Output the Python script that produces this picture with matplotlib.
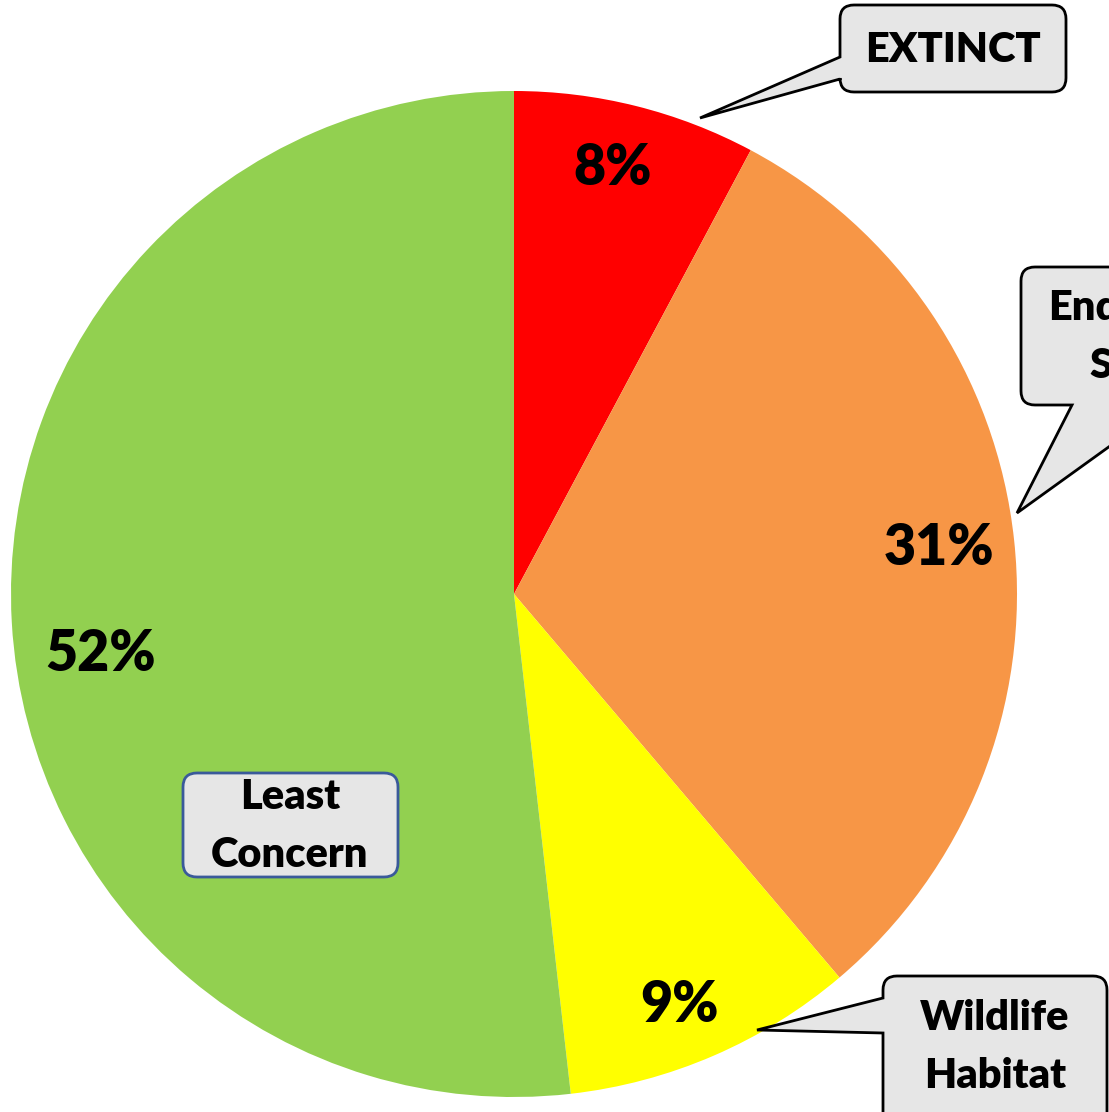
# Conservation status share - pie with speech-bubble callouts
import numpy as np
import matplotlib.pyplot as plt
from matplotlib.path import Path
from matplotlib.patches import PathPatch

plt.rcParams['font.family'] = ['Lato', 'DejaVu Sans']

# %% data
categories = ['EXTINCT', 'Endangered\nSpecies', 'Wildlife\nHabitat', 'Least\nConcern']
share = [7.8, 31.0, 9.4, 51.8]   # labels show rounded %
colors = ['#FF0000', '#F79646', '#FFFF00', '#92D050']

# label placement (radius, angle nudge in deg) for the % labels
pct_r = [0.87, 0.85, 0.88, 0.83]
pct_dt = [1.0, 0.0, -1.5, 5.0]

W, H = 1109, 1112
cx, cy, R = 514, 594, 503   # pie centre / radius in pixels


def bubble(ax, x0, y0, x1, y1, tip=None, side=None, a=None, b=None, r=14,
           fc='#E6E6E6', ec='black', lw=2.0):
    """Rounded box (pixel coords, y down) with an optional wedge pointer."""
    verts = [(x0 + r, y0), (x1 - r, y0), (x1, y0), (x1, y0 + r),
             (x1, y1 - r), (x1, y1), (x1 - r, y1)]
    codes = [Path.MOVETO, Path.LINETO, Path.CURVE3, Path.CURVE3,
             Path.LINETO, Path.CURVE3, Path.CURVE3]
    if side == 'bottom':
        verts += [(b, y1), tip, (a, y1)]
        codes += [Path.LINETO] * 3
    verts += [(x0 + r, y1), (x0, y1), (x0, y1 - r)]
    codes += [Path.LINETO, Path.CURVE3, Path.CURVE3]
    if side == 'left':
        verts += [(x0, b), tip, (x0, a)]
        codes += [Path.LINETO] * 3
    verts += [(x0, y0 + r), (x0, y0), (x0 + r, y0), (x0 + r, y0)]
    codes += [Path.LINETO, Path.CURVE3, Path.CURVE3, Path.CLOSEPOLY]
    ax.add_patch(PathPatch(Path(verts, codes), fc=fc, ec=ec, lw=lw,
                           joinstyle='miter'))


fig = plt.figure(figsize=(W / 100, H / 100), dpi=100)

# pie axes, scaled so the pie sits where it does in the original
ax = fig.add_axes([0, 0, 1, 1])
wedges, _ = ax.pie(share, colors=colors, startangle=90, counterclock=False,
                   radius=1.0, wedgeprops=dict(linewidth=0))
ax.set_xlim(-cx / R, (W - cx) / R)
ax.set_ylim((cy - H) / R, cy / R)
ax.set_aspect('equal')
ax.axis('off')

for w, v, rr, dt in zip(wedges, share, pct_r, pct_dt):
    mid = np.deg2rad((w.theta1 + w.theta2) / 2 + dt)
    ax.text(rr * np.cos(mid), rr * np.sin(mid), f'{v:.0f}%', ha='center',
            va='center', fontsize=40, fontweight='heavy', color='black')

# overlay axes in pixel coordinates for callouts
ov = fig.add_axes([0, 0, 1, 1])
ov.set_xlim(0, W)
ov.set_ylim(H, 0)
ov.axis('off')
ov.patch.set_alpha(0)

lab_kw = dict(ha='center', va='center', fontsize=30, fontweight='heavy',
              color='black', linespacing=1.65)

bubble(ov, 840, 5, 1066, 92, tip=(700, 118), side='left', a=57, b=79)
ov.text(953, 50, categories[0], **lab_kw)

bubble(ov, 1021, 267, 1300, 405, tip=(1017, 513), side='bottom', a=1072, b=1167)
ov.text(1160, 337, categories[1], **lab_kw)

bubble(ov, 883, 976, 1107, 1150, tip=(757, 1030), side='left', a=998, b=1033)
ov.text(995, 1047, categories[2], **lab_kw)

bubble(ov, 183, 773, 398, 877, ec='#3A5A9A', lw=2.0)
ov.text(290, 826, categories[3], **lab_kw)

fig.savefig('out.png', dpi=100)
